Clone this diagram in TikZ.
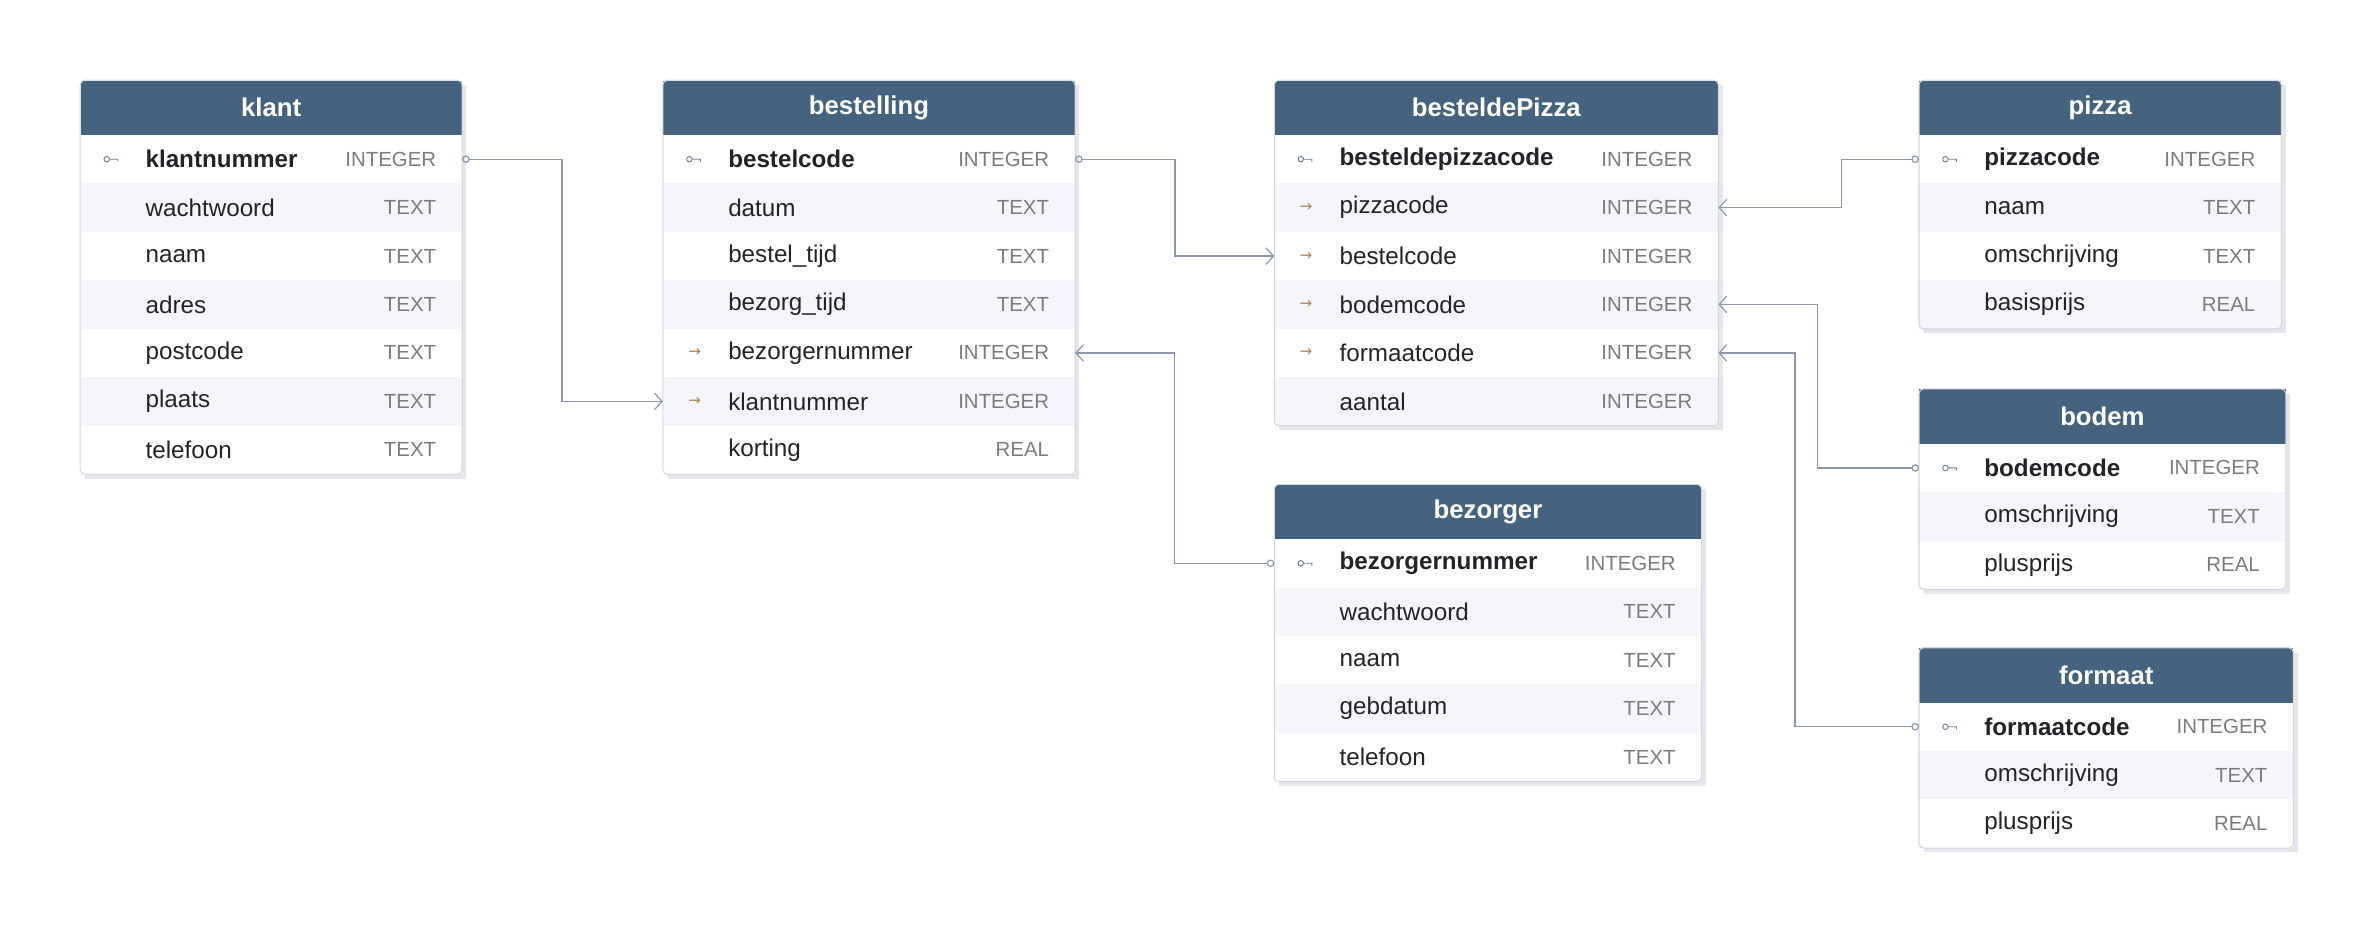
\documentclass[tikz,border=0pt]{standalone}
\usepackage{fontspec}
\setmainfont{Liberation Sans}
\newfontfamily\arrowfont{DejaVu Sans}
\usetikzlibrary{positioning,calc,shadows,arrows.meta}

\definecolor{headblue}{HTML}{45627F}
\definecolor{stripe}{HTML}{F5F6FA}
\definecolor{rimgray}{HTML}{D3D7DE}
\definecolor{shadegray}{HTML}{E4E6EB}
\definecolor{fieldink}{HTML}{222428}
\definecolor{typeink}{HTML}{7A7C80}
\definecolor{keyink}{HTML}{6A7A96}
\definecolor{fkink}{HTML}{B08454}
\definecolor{relink}{HTML}{8E98AC}

\tikzset{
    thead/.style={rectangle, fill=headblue, text=white, minimum height=36, inner sep=0,
        font=\fontsize{17}{19}\selectfont\bfseries, drop shadow={shadow xshift=3pt, shadow yshift=-3pt, fill=shadegray, opacity=1}},
    trow/.style={rectangle, minimum height=32, inner sep=0,
        drop shadow={shadow xshift=3pt, shadow yshift=-3pt, fill=shadegray, opacity=1}},
    fname/.style={inner sep=0, text=fieldink, font=\fontsize{16}{18}\selectfont},
    ftype/.style={inner sep=0, text=typeink, font=\fontsize{13.5}{15}\selectfont},
    rel/.style={draw=relink, line width=0.8, {Circle[open,length=5pt,width=5pt]}-{Straight Barb[length=5pt,width=11pt]}}
}

% id, x, y, width, title, rows
\newcommand{\dbtable}[6]{%
    \node[thead, minimum width=#4, anchor=north west] (#1-h) at (#2,#3) {#5};
    \foreach \kind/\fld/\typ [count=\i] in {#6} {
        \ifodd\i \def\rowfill{white}\else \def\rowfill{stripe}\fi
        \node[trow, fill=\rowfill, minimum width=#4, anchor=north west] (#1-\i) at (#2,{#3+36+(\i-1)*32}) {};
        \if\kind p
            \node[fname, font=\fontsize{16}{18}\selectfont\bfseries, anchor=west] (#1-\i-n) at ($(#1-\i.west)+(43,0)$) {\fld};
            \coordinate (#1-\i-k) at ($(#1-\i.west)+(20,0)$);
            \draw[keyink, line width=0.6] ($(#1-\i-k)+(-2.5,0)$) circle (1.8)
                ($(#1-\i-k)+(-0.7,0)$) -- ++(5.5,0) -- ++(0,1.6);
        \else
            \node[fname, anchor=west] (#1-\i-n) at ($(#1-\i.west)+(43,0)$) {\fld};
        \fi
        \if\kind f
            \node[inner sep=0, text=fkink, font=\arrowfont\fontsize{10}{10}\selectfont] (#1-\i-a) at ($(#1-\i.west)+(21,0)$) {→};
        \fi
        \node[ftype, anchor=east] (#1-\i-t) at ($(#1-\i.east)+(-17,0)$) {\typ};
        \xdef\lastrow{\i}
    }
    \draw[rimgray, line width=0.7, rounded corners=3] (#1-h.north west) rectangle (#1-\lastrow.south east);
}

\begin{document}
\begin{tikzpicture}[x=1pt, y=-1pt]
    \useasboundingbox (0,0) rectangle (1568,613);

    % Tables
    \dbtable{klant}{53}{53}{252}{klant}{p/klantnummer/INTEGER, n/wachtwoord/TEXT, n/naam/TEXT,
        n/adres/TEXT, n/postcode/TEXT, n/plaats/TEXT, n/telefoon/TEXT}
    \dbtable{bestelling}{438}{53}{272}{bestelling}{p/bestelcode/INTEGER, n/datum/TEXT, n/bestel\_tijd/TEXT,
        n/bezorg\_tijd/TEXT, f/bezorgernummer/INTEGER, f/klantnummer/INTEGER, n/korting/REAL}
    \dbtable{besteldePizza}{842}{53}{293}{besteldePizza}{p/besteldepizzacode/INTEGER, f/pizzacode/INTEGER,
        f/bestelcode/INTEGER, f/bodemcode/INTEGER, f/formaatcode/INTEGER, n/aantal/INTEGER}
    \dbtable{bezorger}{842}{320}{282}{bezorger}{p/bezorgernummer/INTEGER, n/wachtwoord/TEXT, n/naam/TEXT,
        n/gebdatum/TEXT, n/telefoon/TEXT}
    \dbtable{pizza}{1268}{53}{239}{pizza}{p/pizzacode/INTEGER, n/naam/TEXT, n/omschrijving/TEXT, n/basisprijs/REAL}
    \dbtable{bodem}{1268}{257}{242}{bodem}{p/bodemcode/INTEGER, n/omschrijving/TEXT, n/plusprijs/REAL}
    \dbtable{formaat}{1268}{428}{247}{formaat}{p/formaatcode/INTEGER, n/omschrijving/TEXT, n/plusprijs/REAL}

    % Relations
    \draw[rel] (klant-1.east) -- ++(66,0) |- (bestelling-6.west);
    \draw[rel] (bestelling-1.east) -- ++(66,0) |- (besteldePizza-3.west);
    \draw[rel] (bezorger-1.west) -- ++(-66,0) |- (bestelling-5.east);
    \draw[rel] (pizza-1.west) -- ++(-51,0) |- (besteldePizza-2.east);
    \draw[rel] (bodem-1.west) -- ++(-67,0) |- (besteldePizza-4.east);
    \draw[rel] (formaat-1.west) -- ++(-82,0) |- (besteldePizza-5.east);
\end{tikzpicture}
\end{document}
